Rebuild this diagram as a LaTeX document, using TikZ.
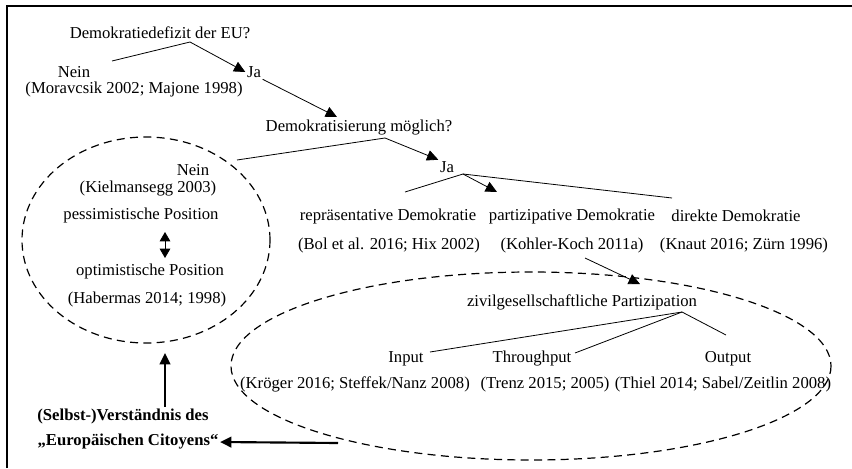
\documentclass[tikz,border=0pt]{standalone}
\usepackage{fontspec}
\setmainfont{Liberation Serif}
\usetikzlibrary{arrows.meta}

\begin{document}
\begin{tikzpicture}[x=0.75pt, y=-0.75pt, line width=0.6pt,
    lbl/.style={inner sep=1pt, font=\fontsize{12.5}{14}\selectfont},
    boldlbl/.style={inner sep=1pt, font=\fontsize{12.5}{14}\selectfont\bfseries},
    arr/.style={-{Triangle[length=8.5pt,width=8pt]}},
    thickarr/.style={line width=1.6pt, -{Triangle[length=8.5pt,width=8pt]}},
    dashring/.style={dash pattern=on 6pt off 4pt, line width=0.9pt}]
    \useasboundingbox (0,0) rectangle (852,468);
    \draw[line width=0.9pt] (7,468) -- (7,6) -- (852,6);

    % first question
    \node[lbl] (q1) at (160,33) {Demokratiedefizit der EU?};
    \node[lbl] (nein1) at (74,72) {Nein};
    \node[lbl] (lit1) at (134,89) {(Moravcsik 2002; Majone 1998)};
    \node[lbl] (ja1) at (254,72) {Ja};
    \coordinate (f1) at (190,42);
    \coordinate (n1) at (112,61);
    \draw (f1) -- (n1);
    \draw[arr] (f1) -- (ja1.west);

    % second question
    \node[lbl] (q2) at (359,128) {Demokratisierung möglich?};
    \coordinate (q2in) at (337,117);
    \draw[arr] (ja1.south east) -- (q2in);
    \node[lbl] (nein2) at (193,170) {Nein};
    \node[lbl] (lit2) at (148,189) {(Kielmansegg 2003)};
    \node[lbl] (pess) at (141,215) {pessimistische Position};
    \node[lbl] (opt) at (150,271) {optimistische Position};
    \node[lbl] (lit3) at (147,299) {(Habermas 2014; 1998)};
    \coordinate (dtop) at (165,232);
    \coordinate (dbot) at (165,258);
    \draw[{Triangle[length=7pt,width=8pt]}-{Triangle[length=7pt,width=8pt]}] (dtop) -- (dbot);
    \node[lbl] (ja2) at (447,167) {Ja};
    \coordinate (f2) at (385,138);
    \coordinate (n2) at (237,160);
    \draw (f2) -- (n2);
    \draw[arr] (f2) -- (ja2.north west);

    % forms of democracy
    \node[lbl] (rep) at (388,216) {repräsentative Demokratie};
    \node[lbl] (par) at (572,216) {partizipative Demokratie};
    \node[lbl] (dir) at (736,216) {direkte Demokratie};
    \node[lbl] (lit4) at (389,245) {(Bol et al. 2016; Hix 2002)};
    \node[lbl] (lit5) at (572,245) {(Kohler-Koch 2011a)};
    \node[lbl] (lit6) at (744,245) {(Knaut 2016; Zürn 1996)};
    \coordinate (f3) at (463,174);
    \coordinate (e1) at (405,192);
    \coordinate (e2) at (497,192);
    \coordinate (e3) at (672,198);
    \draw (f3) -- (e1);
    \draw[arr] (f3) -- (e2);
    \draw (f3) -- (e3);

    % civil society participation
    \node[lbl] (zivil) at (582,302) {zivilgesellschaftliche Partizipation};
    \coordinate (l5) at (585,258);
    \coordinate (zin) at (640,284);
    \draw[arr] (l5) -- (zin);
    \node[lbl] (inp) at (406,359) {Input};
    \node[lbl] (thr) at (532,359) {Throughput};
    \node[lbl] (out) at (728,359) {Output};
    \node[lbl] (lit7) at (355,384) {(Kröger 2016; Steffek/Nanz 2008)};
    \node[lbl] (lit8) at (545,384) {(Trenz 2015; 2005)};
    \node[lbl] (lit9) at (723,384) {(Thiel 2014; Sabel/Zeitlin 2008)};
    \coordinate (f4) at (682,312);
    \coordinate (g1) at (430,352);
    \coordinate (g2) at (575,353);
    \coordinate (g3) at (726,335);
    \draw (f4) -- (g1);
    \draw (f4) -- (g2);
    \draw (f4) -- (g3);

    % dashed rings
    \draw[dashring] (146,240) ellipse [x radius=124, y radius=103];
    \draw[dashring] (531,366) ellipse [x radius=300, y radius=94];

    % self-understanding
    \node[boldlbl] (self1) at (123,416) {(Selbst-)Verständnis des};
    \node[boldlbl] (self2) at (128,442) {„Europäischen Citoyens“};
    \coordinate (ringl) at (165,353);
    \coordinate (ringr) at (338,443);
    \draw[thickarr] (self1.north -| ringl) -- (ringl);
    \draw[thickarr] (ringr) -- (self2.east);
\end{tikzpicture}
\end{document}
